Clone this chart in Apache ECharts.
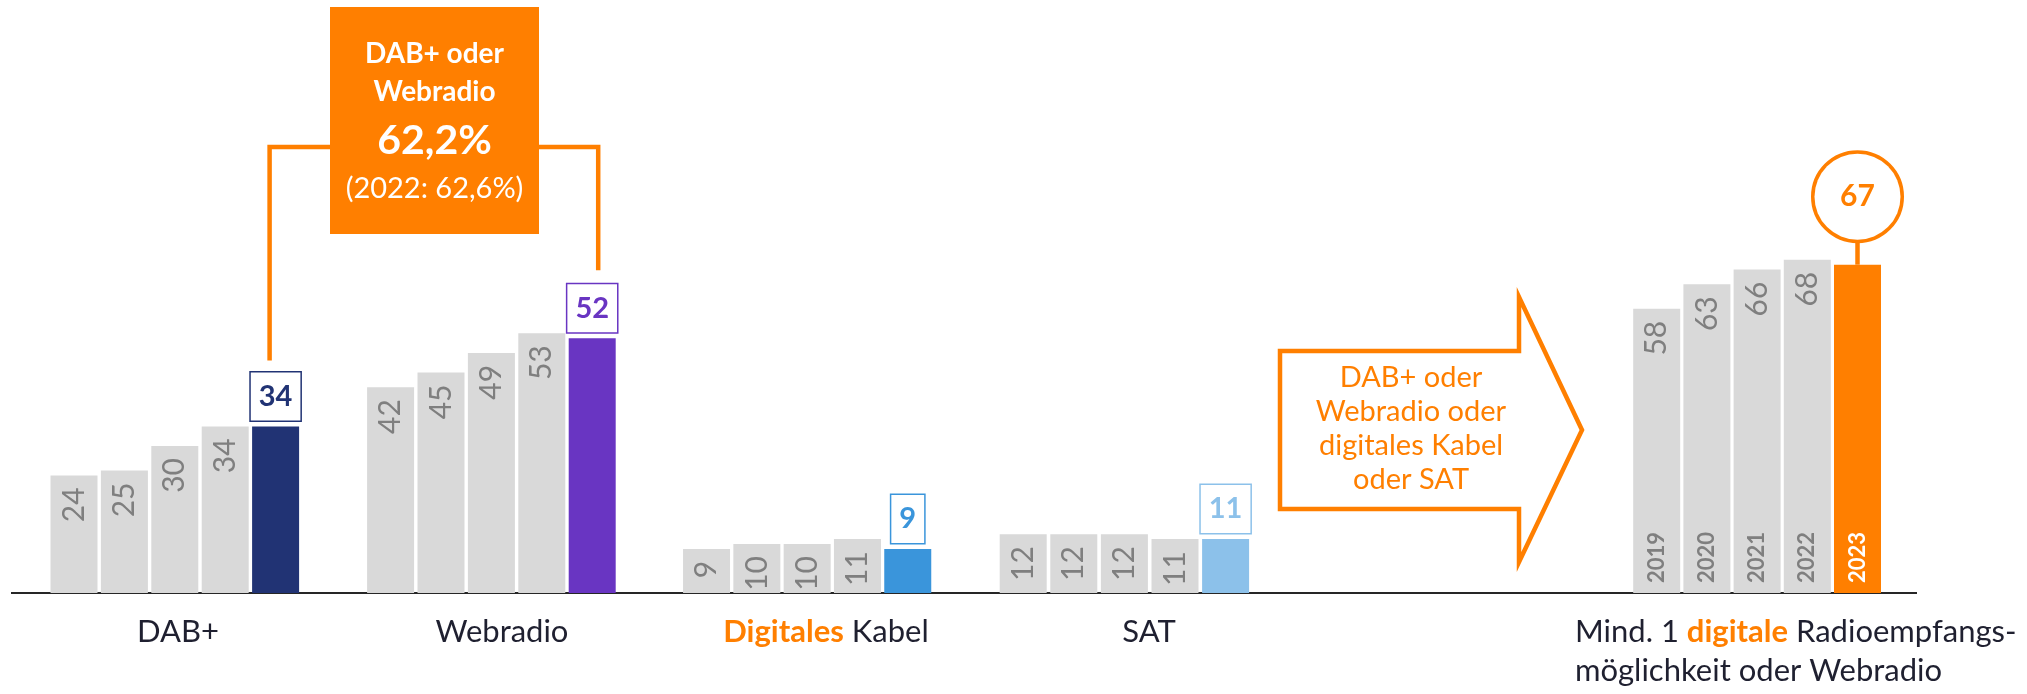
<!DOCTYPE html>
<html>
<head>
<meta charset="utf-8">
<script src="https://cdn.jsdelivr.net/npm/echarts/dist/echarts.min.js"></script>
<style>
  html, body { margin: 0; padding: 0; background: #fff; }
  #chart { width: 2027px; height: 694px; }
</style>
</head>
<body>
<div id="chart"></div>
<script>
// values (percent)
const years = ['2019', '2020', '2021', '2022', '2023']
const dabValues = [24, 25, 30, 34, 34]
const webValues = [42, 45, 49, 53, 52]
const kabelValues = [9, 10, 10, 11, 9]
const satValues = [12, 12, 12, 11, 11]
const digitalValues = [58, 63, 66, 68, 67]
const shareDabOrWeb = '62,2%'
const shareDabOrWeb2022 = '62,6%'

const FONT = 'Lato, "Open Sans", sans-serif'
const GREY = '#d9d9d9'
const GREY_TEXT = '#7f7f7f'
const ORANGE = '#ff7f00'
const DARK = '#1f2030'

// one grid per group
const groups = [
  { values: dabValues, color: '#213374', left: 48.8, width: 252 },
  { values: webValues, color: '#6935c2', left: 365.4, width: 252 },
  { values: kabelValues, color: '#3a95db', left: 681.4, width: 251.5 },
  { values: satValues, color: '#8cc1ea', left: 997.9, width: 253 },
  { values: digitalValues, color: ORANGE, left: 1631.6, width: 251 }
]

const greyLabel = {
  show: true,
  position: 'insideTop',
  rotate: 90,
  align: 'right',
  verticalAlign: 'middle',
  distance: 12,
  color: GREY_TEXT,
  fontSize: 30,
  fontFamily: FONT
}

function boxLabel(color) {
  return {
    show: true,
    position: 'top',
    rotate: 0,
    align: 'center',
    verticalAlign: 'bottom',
    distance: 6,
    color: color,
    fontSize: 29,
    fontWeight: 'bold',
    fontFamily: FONT,
    lineHeight: 28,
    backgroundColor: '#fff',
    borderColor: color,
    borderWidth: 1.5,
    padding: [10, 8]
  }
}

const circleLabel = {
  show: true,
  position: 'top',
  rotate: 0,
  align: 'center',
  verticalAlign: 'bottom',
  distance: 25,
  color: ORANGE,
  fontSize: 30,
  fontWeight: 'bold',
  fontFamily: FONT,
  width: 86,
  height: 86,
  lineHeight: 86,
  backgroundColor: '#fff',
  borderColor: ORANGE,
  borderWidth: 3.5,
  borderRadius: 47
}

const grids = []
const xAxes = []
const yAxes = []
const series = []

groups.forEach((g, i) => {
  grids.push({ left: g.left, width: g.width, top: 103, bottom: 101 })
  xAxes.push({ type: 'category', gridIndex: i, data: years, show: false })
  yAxes.push({ type: 'value', gridIndex: i, min: 0, max: 100, show: false })
  const last = i === groups.length - 1
  series.push({
    type: 'bar',
    xAxisIndex: i,
    yAxisIndex: i,
    barWidth: 47,
    barGap: '-100%',
    silent: true,
    label: greyLabel,
    data: g.values.map((v, j) => {
      if (j < years.length - 1) return { value: v, itemStyle: { color: GREY } }
      return {
        value: v,
        itemStyle: { color: g.color },
        label: last ? circleLabel : boxLabel(g.color)
      }
    })
  })
})

// year labels inside the bars of the last group
series.push({
  type: 'bar',
  xAxisIndex: 4,
  yAxisIndex: 4,
  barWidth: 47,
  barGap: '-100%',
  silent: true,
  z: 3,
  itemStyle: { color: 'transparent' },
  label: {
    show: true,
    position: 'insideBottom',
    rotate: 90,
    align: 'left',
    verticalAlign: 'middle',
    distance: 10,
    formatter: '{b}',
    color: GREY_TEXT,
    fontSize: 22,
    fontWeight: 'bold',
    fontFamily: FONT
  },
  data: digitalValues.map((v, j) =>
    j === years.length - 1 ? { value: v, label: { color: '#fff' } } : v
  )
})

const chart = echarts.init(document.getElementById('chart'))
chart.setOption({
  animation: false,
  backgroundColor: '#fff',
  grid: grids,
  xAxis: xAxes,
  yAxis: yAxes,
  series: series
})

function px(i, j, v) {
  return chart.convertToPixel({ xAxisIndex: i, yAxisIndex: i }, [j, v])
}

const base = px(0, 0, 0)[1]
const dabTop = px(0, 4, dabValues[4])
const webTop = px(1, 4, webValues[4])
const digTop = px(4, 4, digitalValues[4])

function txt(text, x, y, font, fill, extra) {
  return {
    type: 'text',
    z: 10,
    style: Object.assign({
      text: text, x: x, y: y, font: font, fill: fill,
      align: 'center', verticalAlign: 'middle',
      textAlign: 'center', textVerticalAlign: 'middle'
    }, extra || {})
  }
}

const graphics = [
  // baseline
  { type: 'line', z: 0, shape: { x1: 11, y1: base, x2: 1917, y2: base }, style: { stroke: '#262626', lineWidth: 2 } },
  // bracket from DAB+ 2023 to Webradio 2023
  {
    type: 'polyline', z: 5,
    shape: { points: [[dabTop[0] - 6, dabTop[1] - 66], [dabTop[0] - 6, 147], [webTop[0] + 6, 147], [webTop[0] + 6, webTop[1] - 68]] },
    style: { stroke: ORANGE, lineWidth: 4.5, fill: null }
  },
  { type: 'rect', z: 6, shape: { x: 330, y: 7, width: 209, height: 227 }, style: { fill: ORANGE } },
  txt('DAB+ oder', 434.5, 54, 'bold 28px ' + FONT, '#fff'),
  txt('Webradio', 434.5, 92, 'bold 28px ' + FONT, '#fff'),
  txt(shareDabOrWeb, 434.5, 141, 'bold 41px ' + FONT, '#fff'),
  txt('(2022: ' + shareDabOrWeb2022 + ')', 434.5, 189, '29px ' + FONT, '#fff'),
  // arrow
  {
    type: 'polygon', z: 5,
    shape: { points: [[1280, 351], [1519, 351], [1519, 297], [1582, 430], [1519, 562], [1519, 509], [1280, 509]] },
    style: { stroke: ORANGE, lineWidth: 4.5, fill: '#fff' }
  },
  txt('DAB+ oder\nWebradio oder\ndigitales Kabel\noder SAT', 1411, 429, '29px ' + FONT, ORANGE, { lineHeight: 34 }),
  // stem under the 67 circle
  { type: 'line', z: 1, shape: { x1: digTop[0], y1: digTop[1] - 27, x2: digTop[0], y2: digTop[1] }, style: { stroke: ORANGE, lineWidth: 4.5 } },
  // group labels
  txt('DAB+', 178, 632, '31px ' + FONT, DARK),
  txt('Webradio', 502, 632, '31px ' + FONT, DARK),
  {
    type: 'text', z: 10,
    style: {
      text: '{o|Digitales} {d|Kabel}', x: 826, y: 632,
      align: 'center', verticalAlign: 'middle', textAlign: 'center', textVerticalAlign: 'middle',
      rich: {
        o: { fill: ORANGE, color: ORANGE, fontWeight: 'bold', fontSize: 31, fontFamily: FONT },
        d: { fill: DARK, color: DARK, fontSize: 31, fontFamily: FONT }
      },
      font: '31px ' + FONT
    }
  },
  txt('SAT', 1149, 632, '31px ' + FONT, DARK),
  {
    type: 'text', z: 10,
    style: {
      text: '{d|Mind. 1 }{o|digitale}{d| Radioempfangs-}\n{d|möglichkeit oder Webradio}', x: 1575, y: 612,
      align: 'left', verticalAlign: 'top', textAlign: 'left', textVerticalAlign: 'top',
      rich: {
        o: { fill: ORANGE, color: ORANGE, fontWeight: 'bold', fontSize: 31, fontFamily: FONT, lineHeight: 39 },
        d: { fill: DARK, color: DARK, fontSize: 31, fontFamily: FONT, lineHeight: 39 }
      },
      font: '31px ' + FONT
    }
  }
]

chart.setOption({ graphic: graphics })
</script>
</body>
</html>
